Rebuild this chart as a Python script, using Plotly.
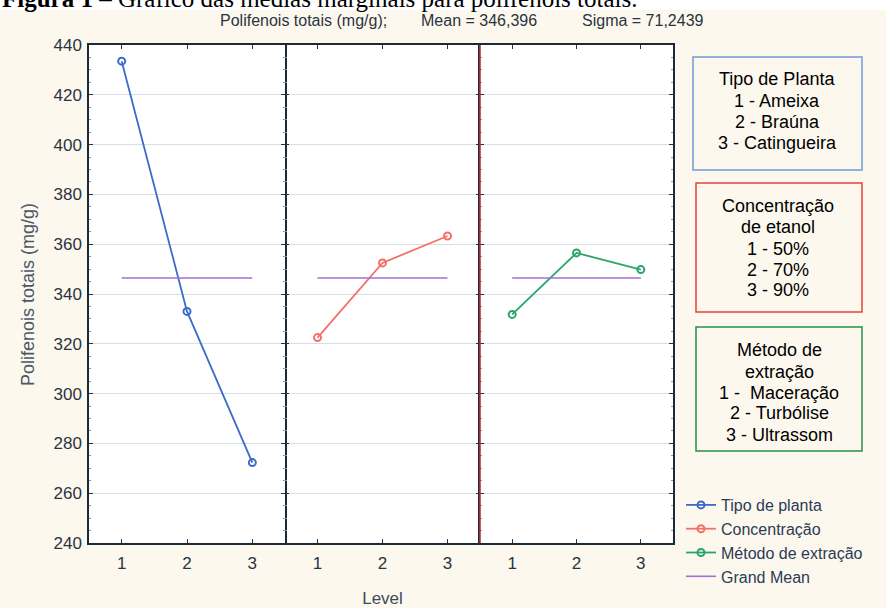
import plotly.graph_objects as go
from plotly.subplots import make_subplots

# ---- data ----
levels = [1, 2, 3]
tipo_planta = [433.5, 333.0, 272.3]
concentracao = [322.5, 352.5, 363.3]
metodo = [331.8, 356.5, 349.8]
grand_mean = 346.396
sigma = 71.2439
y_ticks = [240, 260, 280, 300, 320, 340, 360, 380, 400, 420, 440]

W, H = 886, 608
def px(x):
    return x / W
def py(y):
    return 1 - y / H

BG = "#fdf8ee"
TXT = "#2a3440"
FONT = "Liberation Sans, Arial, sans-serif"

fig = make_subplots(rows=1, cols=3, shared_yaxes=True, horizontal_spacing=0)

blue = "#3a6cc8"
red = "#f37168"
green = "#2aa56a"
purple = "#a36fd6"

series = [("Tipo de planta", tipo_planta, blue, 1),
          ("Concentração", concentracao, red, 2),
          ("Método de extração", metodo, green, 3)]
for name, vals, col, c in series:
    fig.add_trace(go.Scatter(x=levels, y=vals, name=name, mode="lines+markers",
                             line=dict(color=col, width=1.8),
                             marker=dict(symbol="circle-open", size=7, color=col, line=dict(width=2))),
                  row=1, col=c)
for c in (1, 2, 3):
    fig.add_trace(go.Scatter(x=[1, 3], y=[grand_mean, grand_mean], name="Grand Mean", mode="lines",
                             line=dict(color=purple, width=1.6), legendgroup="gm",
                             showlegend=(c == 1)), row=1, col=c)

x_left, x_sep1, x_sep2, x_right = 89, 285, 480, 673
y_top, y_bot = 45, 543
doms = [(px(x_left), px(x_sep1)), (px(x_sep1), px(x_sep2)), (px(x_sep2), px(x_right))]
for i, d in enumerate(doms, start=1):
    fig.update_xaxes(domain=list(d), range=[0.5, 3.5], tickvals=levels, ticktext=["1", "2", "3"],
                     ticks="inside", ticklen=4, tickcolor="#223344", showline=True, linecolor="#1c2a38",
                     linewidth=1.5, mirror="ticks", showgrid=False, zeroline=False,
                     ticklabelstandoff=4, automargin=False,
                     tickfont=dict(family=FONT, size=17, color=TXT), row=1, col=i)
    fig.update_yaxes(domain=[py(y_bot), py(y_top)], range=[240, 440], tickvals=y_ticks,
                     ticks="inside", ticklen=4, tickcolor="#223344", showline=(i != 2), linecolor="#1c2a38",
                     linewidth=1.5, mirror="ticks", showgrid=True, gridcolor="#d6dee8", gridwidth=1,
                     zeroline=False, showticklabels=(i == 1), automargin=False,
                     ticklabelstandoff=2,
                     minor=dict(dtick=5, ticks="inside", ticklen=2, tickcolor="#8899aa", showgrid=False),
                     tickfont=dict(family=FONT, size=17, color=TXT), row=1, col=i)

fig.update_xaxes(title=dict(text="Level", standoff=23, font=dict(family=FONT, size=17, color="#3a4a5c")),
                 row=1, col=2)

shapes = [
    dict(type="rect", xref="paper", yref="paper", x0=0, x1=1, y0=py(10), y1=1.02,
         fillcolor="white", line=dict(width=0), layer="below"),
    dict(type="line", xref="paper", yref="paper", x0=px(x_sep2), x1=px(x_sep2), y0=py(y_bot), y1=py(y_top),
         line=dict(color="#b8353a", width=1.6)),
    dict(type="rect", xref="paper", yref="paper", x0=px(693), x1=px(862), y0=py(170), y1=py(57),
         line=dict(color="#6f9bd6", width=1.5), fillcolor="rgba(0,0,0,0)"),
    dict(type="rect", xref="paper", yref="paper", x0=px(696), x1=px(862), y0=py(312), y1=py(183),
         line=dict(color="#e8403e", width=1.5), fillcolor="rgba(0,0,0,0)"),
    dict(type="rect", xref="paper", yref="paper", x0=px(696), x1=px(862), y0=py(451), y1=py(327),
         line=dict(color="#259048", width=1.5), fillcolor="rgba(0,0,0,0)"),
]

ann = []
def txt(x, y, s, size=18, color="black", family=FONT, xanchor="center", yanchor="middle", **kw):
    ann.append(dict(x=px(x), y=py(y), xref="paper", yref="paper", text=s, showarrow=False,
                    xanchor=xanchor, yanchor=yanchor, font=dict(family=family, size=size, color=color), **kw))

# caption cut off at the top (as in the reference)
ann.append(dict(x=0, y=py(14), xref="paper", yref="paper", xanchor="left", yanchor="bottom",
                text="<b>Figura 1</b> – Gráfico das médias marginais para polifenóis totais.",
                showarrow=False, font=dict(family="Liberation Serif, Times New Roman, serif", size=25, color="black")))

# header
txt(303, 20, "Polifenois totais (mg/g);", size=16, color=TXT)
txt(479, 20, "Mean = 346,396", size=16, color=TXT)
txt(643, 20, "Sigma = 71,2439", size=16, color=TXT)

# y axis title
ann.append(dict(x=px(28), y=py(295), xref="paper", yref="paper", text="Polifenois totais (mg/g)",
                showarrow=False, textangle=-90, xanchor="center", yanchor="middle",
                font=dict(family=FONT, size=18, color="#4a5868")))

# info boxes
for y, s in zip([79, 101, 122, 143], ["Tipo de Planta", "1 - Ameixa", "2 - Braúna", "3 - Catingueira"]):
    txt(777, y, s)
for y, s in zip([206, 227, 249, 270, 290], ["Concentração", "de etanol", "1 - 50%", "2 - 70%", "3 - 90%"]):
    txt(778, y, s)
for y, s in zip([350, 372, 393, 413, 435], ["Método de", "extração", "1 -  Maceração", "2 - Turbólise", "3 - Ultrassom"]):
    txt(779, y, s)

fig.update_layout(
    width=W, height=H, margin=dict(l=0, r=0, t=0, b=0),
    paper_bgcolor=BG, plot_bgcolor="white",
    shapes=shapes, annotations=ann,
    showlegend=True,
    legend=dict(x=px(681), y=py(488), xanchor="left", yanchor="top", bgcolor="rgba(0,0,0,0)",
                font=dict(family=FONT, size=16, color="#2b3b55"), tracegroupgap=0,
                itemwidth=30),
)

fig.write_html("out.html")
